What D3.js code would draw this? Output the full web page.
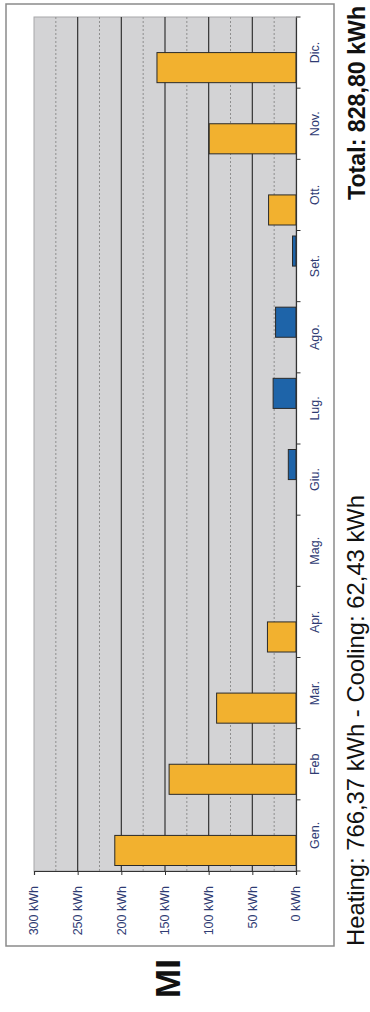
<!DOCTYPE html>
<html><head><meta charset="utf-8">
<script src="https://cdn.jsdelivr.net/npm/d3@7/dist/d3.min.js"></script>
<style>html,body{margin:0;padding:0;background:#fff;}svg{display:block;font-family:"Liberation Sans",Arial,sans-serif;}</style>
</head><body>
<svg id="c" width="370" height="1012"></svg>
<script>
const months = ["Gen.","Feb","Mar.","Apr.","Mag.","Giu.","Lug.","Ago.","Set.","Ott.","Nov.","Dic."];
const heating = [207.5,145.3,90.9,32.7,0,0,0,0,0,31.4,99.4,159.2];
const cooling = [0,0,0,0,0,8.8,26.2,23.4,4.0,0,0,0];
const seriesNames = ["Heating","Cooling"];
const valueTicks = [0,50,100,150,200,250,300];
const minorTicks = [25,75,125,175,225,275];
const tickLabels = ["0 kWh","50 kWh","100 kWh","150 kWh","200 kWh","250 kWh","300 kWh"];
const subtitle = "Heating: 766,37 kWh - Cooling: 62,43 kWh";
const totalText = "Total: 828,80 kWh";
const stationText = "MI";

const svg = d3.select("#c");
const colors = {Heating:"#F2B12F", Cooling:"#1E64A9"};
const labelColor = "#2f3b73";

// frame
svg.append("rect").attr("x",6).attr("y",4).attr("width",328).attr("height",942)
  .attr("fill","#fff").attr("stroke","#8a8a8a").attr("stroke-width",1.5);

const vx = d3.scaleLinear().domain([0,300]).range([296,34]);
const by = d3.scaleBand().domain(months).range([871,17]);
const sub = d3.scaleBand().domain(seriesNames).range([by.bandwidth()-5.5,5.5]);

// plot bg
svg.append("rect").attr("x",vx(300)).attr("y",17).attr("width",vx(0)-vx(300)).attr("height",871-17)
  .attr("fill","#d3d3d5").attr("stroke","#a8a8aa").attr("stroke-width",1);

// minor dashed grid
svg.append("g").selectAll("line").data(minorTicks).join("line")
  .attr("x1",d=>vx(d)).attr("x2",d=>vx(d)).attr("y1",17).attr("y2",871)
  .attr("stroke","#8e8e8e").attr("stroke-width",1).attr("stroke-dasharray","2,2");
// major grid
svg.append("g").selectAll("line").data(valueTicks.filter(d=>d>0&&d<300)).join("line")
  .attr("x1",d=>vx(d)).attr("x2",d=>vx(d)).attr("y1",17).attr("y2",871)
  .attr("stroke","#333").attr("stroke-width",1.2);

// bars
const data = months.map((m,i)=>({m, vals:[{s:"Heating",v:heating[i]},{s:"Cooling",v:cooling[i]}]}));
const g = svg.append("g");
data.forEach(d=>{
  d.vals.filter(e=>e.v>0).forEach(e=>{
    g.append("rect")
      .attr("x",vx(e.v)).attr("y",by(d.m)+sub(e.s))
      .attr("width",vx(0)-vx(e.v)).attr("height",sub.bandwidth())
      .attr("fill",colors[e.s]).attr("stroke","#2a2a2a").attr("stroke-width",1);
  });
});

// value axis (bottom of plot)
const va = svg.append("g").attr("transform","translate(0,871)")
  .call(d3.axisBottom(vx).tickValues(valueTicks).tickSize(4).tickFormat(""));
va.select(".domain").attr("stroke","#333").attr("stroke-width",1.2);
va.selectAll(".tick line").attr("stroke","#333");
svg.append("g").selectAll("text").data(valueTicks).join("text")
  .attr("transform",d=>`translate(${vx(d)},886) rotate(-90)`)
  .attr("text-anchor","end").attr("dy","0.35em")
  .attr("font-size",12.5).attr("fill",labelColor)
  .text((d,i)=>tickLabels[i]);

// category axis at value 0
const ca = svg.append("g").attr("transform",`translate(${vx(0)},0)`)
  .call(d3.axisRight(by).tickSize(0).tickFormat(""));
ca.select(".domain").attr("stroke","#333").attr("stroke-width",1.2);
const bounds = months.map(m=>by(m)).concat([by(months[0])+by.bandwidth()]);
svg.append("g").selectAll("line").data(bounds).join("line")
  .attr("x1",vx(0)).attr("x2",vx(0)+4.5).attr("y1",d=>d).attr("y2",d=>d)
  .attr("stroke","#333").attr("stroke-width",1);
svg.append("g").selectAll("text").data(months).join("text")
  .attr("transform",d=>`translate(319,${by(d)+by.bandwidth()/2}) rotate(-90)`)
  .attr("text-anchor","middle").attr("font-size",12.5).attr("fill",labelColor)
  .text(d=>d);

// texts
svg.append("text").attr("transform","translate(364,946) rotate(-90)")
  .attr("font-size",23.8).attr("fill","#111").text(subtitle);
svg.append("text").attr("transform","translate(365,200) rotate(-90)")
  .attr("font-size",23.2).attr("font-weight","bold").attr("fill","#111").text(totalText);
svg.append("text").attr("transform","translate(180,998) rotate(-90)")
  .attr("font-size",35).attr("font-weight","bold").attr("fill","#111").text(stationText);
</script>
</body></html>
